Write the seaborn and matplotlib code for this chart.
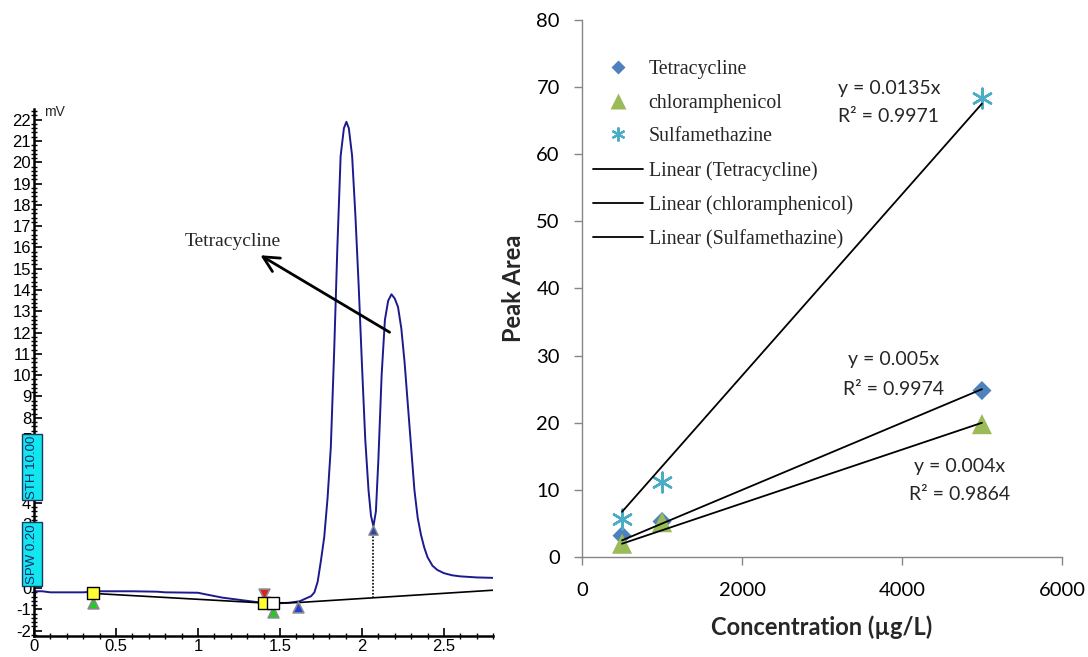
import numpy as np
import pandas as pd
import matplotlib
matplotlib.use("Agg")
import matplotlib.pyplot as plt
import seaborn as sns
from matplotlib.lines import Line2D
from matplotlib.patches import Rectangle
from matplotlib.ticker import MultipleLocator, FuncFormatter

# =========================================================
# DATA - chromatogram (left panel)
# =========================================================

ret_time = [0.00, 0.003, 0.01, 0.05, 0.10, 0.30, 0.40, 0.60, 0.75, 0.80,
            1.00, 1.05, 1.15, 1.25, 1.35, 1.45, 1.55, 1.62, 1.66, 1.69,
            1.71, 1.73, 1.75, 1.77, 1.79, 1.81, 1.83, 1.85, 1.87, 1.89,
            1.905, 1.92, 1.94, 1.96, 1.98, 2.00, 2.02, 2.04, 2.055, 2.07,
            2.085, 2.10, 2.12, 2.14, 2.16, 2.18, 2.20, 2.22, 2.24, 2.26,
            2.28, 2.30, 2.32, 2.34, 2.36, 2.38, 2.40, 2.43, 2.46, 2.50,
            2.55, 2.60, 2.70, 2.80]
signal_mv = [0.0, -0.5, -0.15, -0.15, -0.2, -0.2, -0.15, -0.15, -0.17, -0.2,
             -0.22, -0.3, -0.45, -0.55, -0.65, -0.72, -0.7, -0.62, -0.48, -0.38,
             -0.2, 0.3, 1.3, 2.4, 4.2, 6.6, 11.0, 16.0, 20.3, 21.6,
             21.9, 21.6, 20.3, 17.5, 14.2, 10.5, 7.0, 4.6, 3.4, 2.9,
             3.6, 6.0, 10.0, 12.6, 13.5, 13.8, 13.6, 13.2, 12.2, 10.6,
             8.6, 6.6, 4.6, 3.3, 2.5, 1.9, 1.45, 1.05, 0.85, 0.7,
             0.6, 0.55, 0.5, 0.48]

# integration baseline
base_time = [0.36, 1.40, 1.46, 1.61, 2.80]
base_mv = [-0.25, -0.70, -0.70, -0.68, -0.10]

# peak event markers
start_time = [0.36, 1.40]
start_mv = [-0.25, -0.70]
end_time = [1.46]
end_mv = [-0.70]
green_time = [0.36, 1.46]
green_mv = [-0.72, -1.12]
red_time = [1.40]
red_mv = [-0.27]
blue_time = [1.61]
blue_mv = [-0.88]
valley_time = 2.07
valley_mv = 2.75

# =========================================================
# DATA - calibration (right panel)
# =========================================================

conc = [500, 1000, 5000]
tetracycline = [3.2, 5.3, 24.8]
chloramphenicol = [2.0, 5.2, 19.8]
sulfamethazine = [5.7, 11.2, 68.3]

compounds = ["Tetracycline", "chloramphenicol", "Sulfamethazine"]
slopes = [0.005, 0.004, 0.0135]
r_squared = [0.9974, 0.9864, 0.9971]
colors = ["#4F81BD", "#9BBB59", "#4BACC6"]

# =========================================================
# STYLE
# =========================================================

sns.set_theme(style="ticks")
plt.rcParams['font.family'] = ['Lato', 'DejaVu Sans']
SERIF = ['Liberation Serif', 'DejaVu Serif']
ARIAL = ['Liberation Sans', 'DejaVu Sans']

fig = plt.figure(figsize=(10.88, 6.57), dpi=100)

# =========================================================
# LEFT PANEL - CHROMATOGRAM
# =========================================================

ax1 = fig.add_axes([0.03125, 0.032, 0.422, 0.802])
ax1.patch.set_alpha(0)

sns.lineplot(x=ret_time, y=signal_mv, ax=ax1, color="#1b1b8f",
             linewidth=1.4, estimator=None, sort=False)
ax1.plot(base_time, base_mv, color="black", linewidth=1.2, zorder=3)
ax1.plot([valley_time, valley_time], [-0.45, valley_mv], color="black",
         linestyle=(0, (1, 1)), linewidth=1.2)

ax1.scatter(green_time, green_mv, marker="^", s=60, color="#22cc22",
            edgecolor="#8a8a8a", linewidth=1.2, zorder=4)
ax1.scatter(red_time, red_mv, marker="v", s=60, color="#e02020",
            edgecolor="#8a8a8a", linewidth=1.2, zorder=4)
ax1.scatter(blue_time, blue_mv, marker="^", s=60, color="#1f3fe0",
            edgecolor="#8a8a8a", linewidth=1.2, zorder=4)
ax1.scatter([valley_time], [valley_mv], marker="^", s=45, color="#3344aa",
            edgecolor="#8a8a8a", linewidth=1.0, zorder=4)
ax1.scatter(start_time, start_mv, marker="s", s=65, color="#ffff33",
            edgecolor="black", linewidth=1.0, zorder=5)
ax1.scatter(end_time, end_mv, marker="s", s=65, color="white",
            edgecolor="black", linewidth=1.0, zorder=5)

ax1.annotate("", xy=(1.366, 15.7), xytext=(2.183, 11.95),
             arrowprops=dict(arrowstyle="->", lw=2.0, color="black",
                             mutation_scale=28))
ax1.text(1.213, 16.3, "Tetracycline", ha="center", va="center",
         fontsize=14, family=SERIF)

ax1.set_xlim(0, 2.8)
ax1.xaxis.set_major_locator(MultipleLocator(0.5))
ax1.xaxis.set_minor_locator(MultipleLocator(0.1))
ax1.yaxis.set_minor_locator(MultipleLocator(0.2))
fmt = FuncFormatter(lambda v, p: f"{v:g}")
ax1.xaxis.set_major_formatter(fmt)
ax1.yaxis.set_major_formatter(fmt)
ax1.set_yticks(np.arange(-2, 23, 1))
ax1.set_ylim(-2.25, 22.5)

ax1.tick_params(axis="both", which="major", direction="in", length=6,
                width=1.2, labelsize=12, pad=2, colors="black")
ax1.tick_params(axis="both", which="minor", direction="inout", length=4,
                width=1.0, colors="black")
for lab in ax1.get_xticklabels() + ax1.get_yticklabels():
    lab.set_family(ARIAL)
sns.despine(ax=ax1)
for side in ["left", "bottom"]:
    ax1.spines[side].set_linewidth(1.8)
    ax1.spines[side].set_color("black")

ax1.text(0.06, 22.35, "mV", fontsize=10, family=ARIAL, va="center")

# parameter boxes at the y axis
for y0, h, txt in [(4.13, 3.1, "STH 10.00"), (0.09, 3.0, "SPW 0.20")]:
    ax1.add_patch(Rectangle((-0.073, y0), 0.122, h, facecolor="#12e6ee",
                            edgecolor="#1c3a60", linewidth=1.0,
                            clip_on=False, zorder=6))
    ax1.text(-0.012, y0 + h / 2, txt, rotation=90, ha="center", va="center",
             fontsize=9.5, family=ARIAL, color="#14286a", zorder=7,
             clip_on=False)

# =========================================================
# RIGHT PANEL - CALIBRATION CURVES
# =========================================================

ax2 = fig.add_axes([0.535, 0.152, 0.441, 0.818])

df = pd.DataFrame({
    "conc": conc * 3,
    "area": tetracycline + chloramphenicol + sulfamethazine,
    "compound": np.repeat(compounds, len(conc)),
})

marker_kw = {
    "Tetracycline": dict(marker="D", s=95),
    "chloramphenicol": dict(marker="^", s=210),
    "Sulfamethazine": dict(marker=(6, 2, 0), s=200, linewidth=1.8),
}
for name, col in zip(compounds, colors):
    sub = df[df["compound"] == name]
    kw = marker_kw[name]
    if name == "Sulfamethazine":
        sns.scatterplot(data=sub, x="conc", y="area", ax=ax2, color=col,
                        legend=False, zorder=3, **kw)
    else:
        sns.scatterplot(data=sub, x="conc", y="area", ax=ax2, color=col,
                        edgecolor="none", legend=False, zorder=3, **kw)

x_fit = np.array([conc[0], conc[-1]])
for k in slopes:
    ax2.plot(x_fit, k * x_fit, color="black", linewidth=1.3, zorder=4)

# equations
eq_font = dict(fontsize=14)
ax2.text(3200, 69.7, f"y = {slopes[2]}x", ha="left", va="center", **eq_font)
ax2.text(3200, 65.6, f"R² = {r_squared[2]}", ha="left", va="center", **eq_font)
ax2.text(3890, 29.4, f"y = {slopes[0]}x", ha="center", va="center", **eq_font)
ax2.text(3890, 24.9, f"R² = {r_squared[0]}", ha="center", va="center", **eq_font)
ax2.text(4725, 13.5, f"y = {slopes[1]}x", ha="center", va="center", **eq_font)
ax2.text(4725, 9.3, f"R² = {r_squared[1]}", ha="center", va="center", **eq_font)

ax2.set_xlim(0, 6000)
ax2.set_ylim(0, 80)
ax2.set_xticks([0, 2000, 4000, 6000])
ax2.set_yticks(np.arange(0, 81, 10))
ax2.tick_params(axis="both", direction="out", length=6, width=1.0,
                color="#868686", labelsize=14.5, labelcolor="black")
ax2.tick_params(axis="x", pad=12)
ax2.tick_params(axis="y", pad=10)
sns.despine(ax=ax2)
for side in ["left", "bottom"]:
    ax2.spines[side].set_color("#868686")
    ax2.spines[side].set_linewidth(1.0)

ax2.set_xlabel("Concentration (µg/L)", fontsize=17, fontweight="bold",
               labelpad=12)
ax2.set_ylabel("Peak Area", fontsize=17, fontweight="bold", labelpad=8)

# legend
handles = [
    Line2D([], [], linestyle="none", marker="D", markersize=7,
           markerfacecolor=colors[0], markeredgecolor="none"),
    Line2D([], [], linestyle="none", marker="^", markersize=11,
           markerfacecolor=colors[1], markeredgecolor="none"),
    Line2D([], [], linestyle="none", marker=(6, 2, 0), markersize=10,
           color=colors[2], markeredgewidth=1.6),
    Line2D([], [], color="black", linewidth=1.3),
    Line2D([], [], color="black", linewidth=1.3),
    Line2D([], [], color="black", linewidth=1.3),
]
labels = compounds + [f"Linear ({c})" for c in compounds]
ax2.legend(handles, labels, loc="upper left", bbox_to_anchor=(0.023, 0.925),
           frameon=False, prop=dict(family=SERIF, size=14.3), handlelength=2.5,
           handletextpad=0.3, labelspacing=0.74, borderaxespad=0, borderpad=0)

fig.savefig("out.png", dpi=100)
